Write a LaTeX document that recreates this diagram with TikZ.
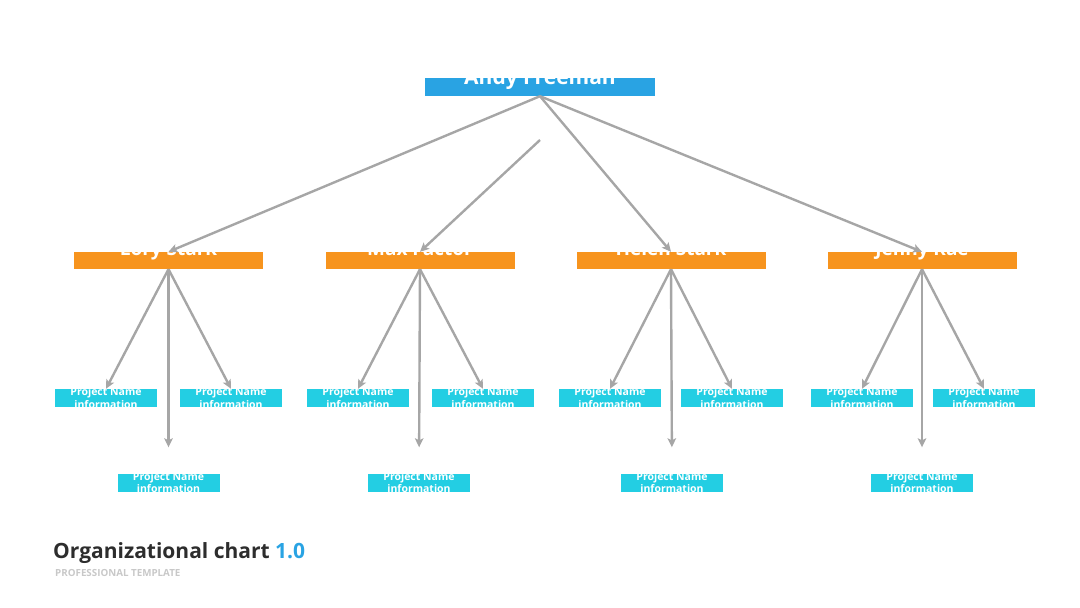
\documentclass[tikz,border=0pt]{standalone}
\usepackage{fontspec}
\setmainfont{Open Sans}
\usetikzlibrary{arrows.meta}
\definecolor{topblue}{RGB}{41,163,227}
\definecolor{mgrorange}{RGB}{247,148,30}
\definecolor{projcyan}{RGB}{35,206,227}
\definecolor{arrowgrey}{RGB}{166,166,166}
\definecolor{titledark}{RGB}{45,45,45}
\definecolor{subgrey}{RGB}{200,200,200}
\tikzset{
  topbox/.style={fill=topblue, draw=none, minimum width=230pt, minimum height=18pt, inner sep=0pt},
  mgrbox/.style={fill=mgrorange, draw=none, minimum width=189pt, minimum height=17pt, inner sep=0pt},
  projbox/.style={fill=projcyan, draw=none, minimum width=102pt, minimum height=18pt, inner sep=0pt},
  toptext/.style={anchor=base, text=white, font=\bfseries\fontsize{21}{21}\selectfont, inner sep=0pt},
  mgrtext/.style={anchor=base, text=white, font=\bfseries\fontsize{19}{19}\selectfont, inner sep=0pt},
  projtext/.style={anchor=center, text=white, align=center, font=\bfseries\fontsize{10.5}{12.3}\selectfont, inner sep=0pt},
  arr/.style={draw=arrowgrey, line width=2.4pt, -{Stealth[length=9pt,width=8.5pt,inset=2pt]}},
}
\begin{document}
\begin{tikzpicture}[x=1pt,y=-1pt]
\useasboundingbox (0,0) rectangle (1080,608);
% top
\node[topbox] (andy) at (540,87) {};
\node[toptext] (andyt) at (540,84) {Andy Freeman};
% managers
\node[mgrbox] (lory)  at (168.5,260.5) {};
\node[mgrbox] (max)   at (420,260.5) {};
\node[mgrbox] (helen) at (671,260.5) {};
\node[mgrbox] (jenny) at (922,260.5) {};
\node[mgrtext] (loryt)  at (168.5,255.5) {Lory Stark};
\node[mgrtext] (maxt)   at (420,255.5) {Max Factor};
\node[mgrtext] (helent) at (671,255.5) {Helen Stark};
\node[mgrtext] (jennyt) at (922,255.5) {Jenny Rae};
% projects
\foreach \n/\x/\y in {p11/106/398, p12/231/398, p13/168.5/482.5,
                      p21/358/398, p22/483/398, p23/419/482.5,
                      p31/610/398, p32/732/398, p33/672/482.5,
                      p41/862/398, p42/984/398, p43/922/482.5}{
  \node[projbox] (\n) at (\x,\y) {};
  \node[projtext] (\n t) at (\x,\y) {Project Name\\information};
}
% connectors from top
\coordinate (mstart) at (540,140);
\draw[arr] (andy.south) -- (lory.north);
\draw[arr] (mstart) -- (max.north);
\draw[arr] (andy.south) -- (helen.north);
\draw[arr] (andy.south) -- (jenny.north);
% manager connectors
\foreach \m/\a/\b/\c in {lory/p11/p12/p13, max/p21/p22/p23, helen/p31/p32/p33, jenny/p41/p42/p43}{
  \draw[arr] (\m.south) -- (\a.north);
  \draw[arr] (\m.south) -- (\b.north);
  \draw[arr, shorten >=26pt] (\m.south) -- (\c.north);
}
% title
\node[anchor=base west, inner sep=0pt, text=titledark, font=\bfseries\fontsize{21}{21}\selectfont] (title) at (53,558) {Organizational chart \textcolor{topblue}{1.0}};
\node[anchor=base west, inner sep=0pt, text=subgrey, font=\bfseries\fontsize{9.8}{10}\selectfont] (subtitle) at (55,576) {PROFESSIONAL TEMPLATE};
\end{tikzpicture}
\end{document}
